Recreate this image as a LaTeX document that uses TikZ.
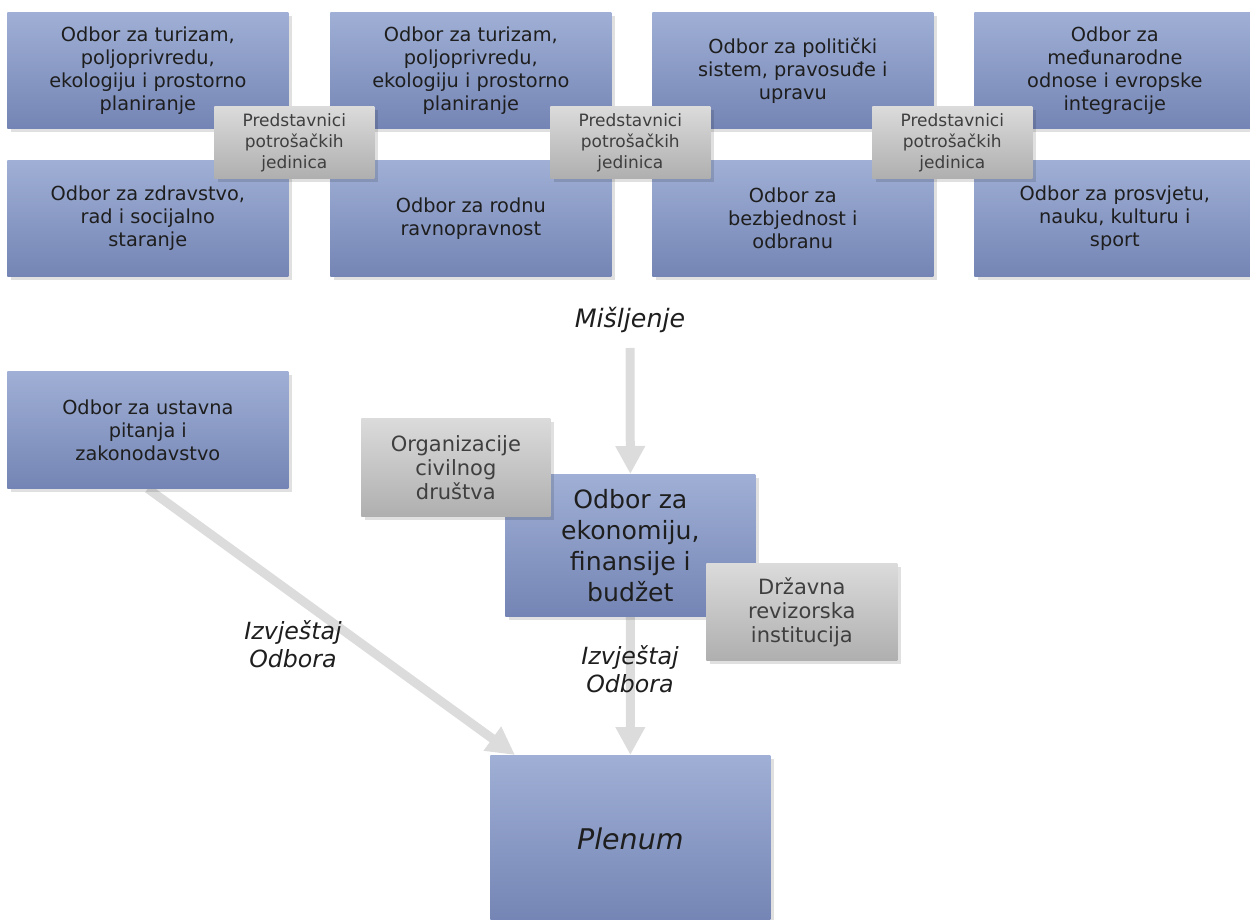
\documentclass[tikz,border=0pt]{standalone}
\usepackage{fontspec}
\setmainfont{DejaVu Sans}
\usetikzlibrary{shadows,arrows.meta,calc,backgrounds}
\definecolor{btop}{HTML}{9FAFD5}
\definecolor{bbot}{HTML}{7485B5}
\definecolor{gtop}{HTML}{DBDBDB}
\definecolor{gbot}{HTML}{AFAFAF}
\definecolor{txtdark}{HTML}{1E1E1E}
\definecolor{txtgray}{HTML}{3F3F3F}
\definecolor{arrowgray}{HTML}{DCDCDC}
\begin{document}
\begin{tikzpicture}[x=0.6pt,y=-0.6pt,
  boxbase/.style={anchor=north west, inner sep=1pt, draw=none, align=center,
    drop shadow={shadow xshift=2pt, shadow yshift=-2pt, fill=black, opacity=0.12}},
  bluebox/.style={boxbase, top color=btop, bottom color=bbot, text=txtdark,
    font=\fontsize{11.6}{13.8}\selectfont},
  bigbox/.style={bluebox, minimum width=168.6pt, minimum height=69.6pt},
  graybox/.style={boxbase, top color=gtop, bottom color=gbot, text=txtgray},
  repbox/.style={graybox, minimum width=96pt, minimum height=43.2pt,
    font=\fontsize{10.2}{12.6}\selectfont},
  sidebox/.style={graybox, font=\fontsize{12.6}{14.4}\selectfont},
  lbl/.style={align=center, text=txtdark, font=\fontsize{14.2}{16.8}\selectfont\itshape},
  flow/.style={draw=arrowgray, line width=5.4pt,
    -{Triangle[width=16.8pt,length=16.8pt]}}
]
\useasboundingbox (0,0) rectangle (1250,920);

% committees, top row
\node[bigbox] (a1) at (7,12) {Odbor za turizam,\\poljoprivredu,\\ekologiju i prostorno\\planiranje};
\node[bigbox] (a2) at (330,12) {Odbor za turizam,\\poljoprivredu,\\ekologiju i prostorno\\planiranje};
\node[bigbox] (a3) at (652,12) {Odbor za politički\\sistem, pravosuđe i\\upravu};
\node[bigbox] (a4) at (974,12) {Odbor za\\međunarodne\\odnose i evropske\\integracije};
% committees, second row
\node[bigbox] (b1) at (7,160) {Odbor za zdravstvo,\\rad i socijalno\\staranje};
\node[bigbox] (b2) at (330,160) {Odbor za rodnu\\ravnopravnost};
\node[bigbox] (b3) at (652,160) {Odbor za\\bezbjednost i\\odbranu};
\node[bigbox] (b4) at (974,160) {Odbor za prosvjetu,\\nauku, kulturu i\\sport};
% representatives
\node[repbox] (g1) at (214,106) {Predstavnici\\potrošačkih\\jedinica};
\node[repbox] (g2) at (550,106) {Predstavnici\\potrošačkih\\jedinica};
\node[repbox] (g3) at (872,106) {Predstavnici\\potrošačkih\\jedinica};

% lower part
\node[lbl, font=\fontsize{15.2}{18}\selectfont\itshape] (mis) at (630,320) {Mišljenje};
\coordinate (mstart) at (630,348);

\node[bigbox, minimum height=70.2pt] (ust) at (7,371) {Odbor za ustavna\\pitanja i\\zakonodavstvo};
\node[bluebox, minimum width=168pt, minimum height=100pt, font=\fontsize{17.1}{20}\selectfont\itshape] (pl) at (490,755) {Plenum};
\coordinate (dtip) at ($(pl.north west)+(25,0)$);

\node[bluebox, minimum width=150pt, minimum height=85.2pt,
  font=\fontsize{15.1}{18.6}\selectfont] (ek) at (505,474) {Odbor za\\ekonomiju,\\finansije i\\budžet};

\node[sidebox, minimum width=113.4pt, minimum height=58.8pt] (org) at (361,418) {Organizacije\\civilnog\\društva};
\node[sidebox, minimum width=114.6pt, minimum height=58.2pt] (dri) at (706,563) {Državna\\revizorska\\institucija};

% arrows behind the boxes
\begin{scope}[on background layer]
\draw[flow] (ust.south) -- (dtip);
\draw[flow] (mstart) -- (ek.north);
\draw[flow] (ek.south) -- (pl.north);
\end{scope}

\node[lbl] (izv1) at (293,644) {Izvještaj\\Odbora};
\node[lbl] (izv2) at (630,669) {Izvještaj\\Odbora};
\end{tikzpicture}
\end{document}
